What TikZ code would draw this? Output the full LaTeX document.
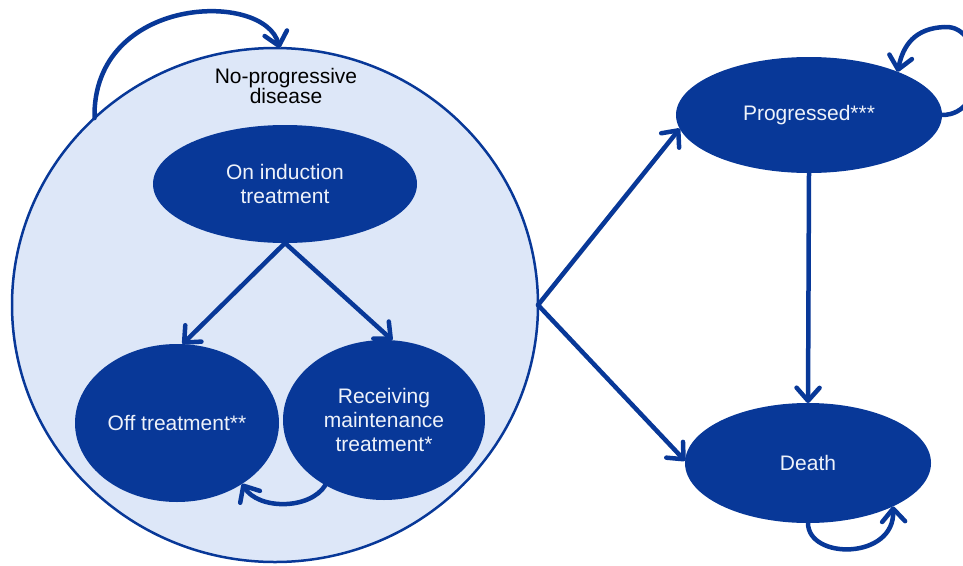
\documentclass[tikz,border=0pt]{standalone}
\usepackage{fontspec}
\setmainfont{Liberation Sans}
\usetikzlibrary{shapes.geometric,arrows.meta}
\definecolor{dblue}{RGB}{8,56,152}
\definecolor{lblue}{RGB}{221,231,248}
\definecolor{wtext}{RGB}{238,242,250}
\begin{document}
\begin{tikzpicture}[x=1pt,y=-1pt,
  state/.style={ellipse,fill=dblue,draw=none,inner sep=0pt,outer sep=0pt,
    text=wtext,align=center,font=\fontsize{21}{24}\selectfont},
  conn/.style={draw=dblue,line width=4.5pt,line cap=round,
    -{Straight Barb[length=13pt,width=23pt,round]},
    preaction={draw=black!22,transform canvas={shift={(1.5pt,-1.5pt)}}}}]
\useasboundingbox (0,0) rectangle (963,565);
\node[ellipse,fill=lblue,draw=dblue,line width=2.5pt,inner sep=0pt,outer sep=0pt,
  minimum width=526pt,minimum height=514pt] (npd) at (275,305) {};
\node[align=center,font=\fontsize{21}{19}\selectfont,text=black] (lab) at (286,86) {No-progressive\\disease};
\node[state,minimum width=264pt,minimum height=118pt] (ind) at (285,184) {On induction\\treatment};
\node[state,minimum width=204pt,minimum height=158pt] (off) at (177,423) {Off treatment**};
\node[state,minimum width=202pt,minimum height=160pt] (rec) at (384,420) {Receiving\\maintenance\\treatment*};
\node[state,minimum width=266pt,minimum height=116pt] (prog) at (809,115) {Progressed***};
\node[state,minimum width=246pt,minimum height=120pt] (death) at (808,463) {Death};
% connectors
\draw[conn] (npd.134) .. controls (92,-5) and (265,-10) .. (npd.89);
\draw[conn] (ind.south) -- (off.86);
\draw[conn] (ind.south) -- (rec.84);
\draw[conn] (rec.228) .. controls (310,510) and (258,510) .. (off.317);
\draw[conn] (npd.east) -- (prog.186);
\draw[conn] (npd.east) -- (death.179);
\draw[conn] (prog.south) -- (death.north);
\draw[conn] (prog.east) .. controls (990,115) and (985,25) .. (945,27) .. controls (915,28) and (903,45) .. (prog.26);
\draw[conn] (death.south) .. controls (808,560) and (895,560) .. (death.333);
\end{tikzpicture}
\end{document}
